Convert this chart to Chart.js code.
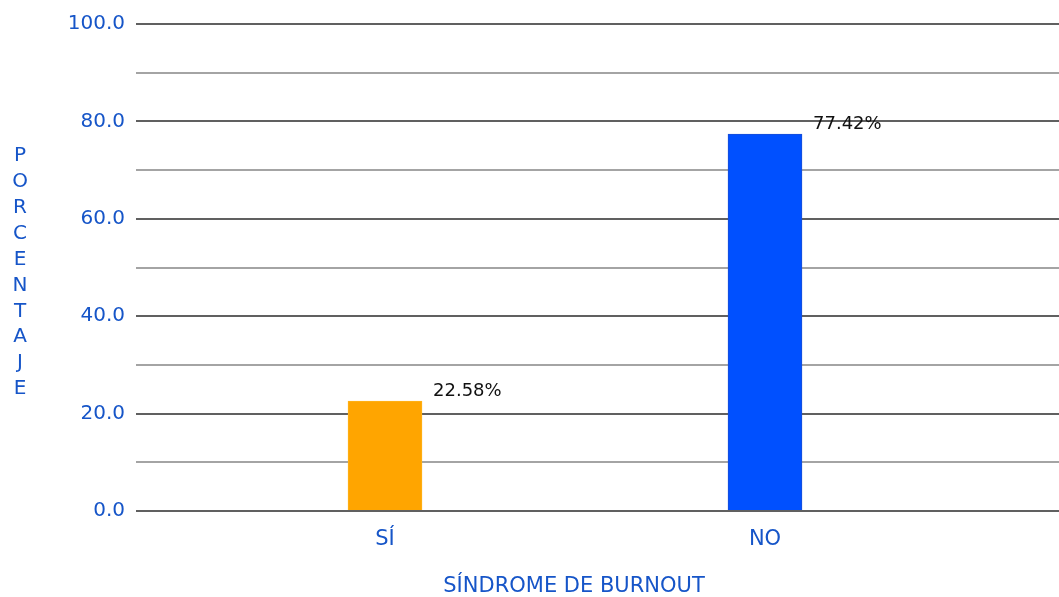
<!DOCTYPE html>
<html>
<head>
<meta charset="utf-8">
<script src="https://cdn.jsdelivr.net/npm/chart.js@4/dist/chart.umd.min.js"></script>
<style>
  html, body { margin: 0; padding: 0; background: #ffffff; }
  #wrap { width: 1059px; height: 597px; }
</style>
</head>
<body>
<div id="wrap"><canvas id="c" width="1059" height="597"></canvas></div>
<script>
// Burnout syndrome: share of respondents (%)
const categories = ['SÍ', 'NO'];
const percentages = [22.58, 77.42];
const barColors = ['#FFA500', '#0050FF'];
const barBorders = ['#FFB31A', '#1A4FD6'];
const yTitle = 'PORCENTAJE';
const xTitle = 'SÍNDROME DE BURNOUT';

const TEXT_BLUE = '#1655C8';
const FONT = "'DejaVu Sans', Verdana, sans-serif";

// Value labels to the upper right of each bar
const valueLabels = {
  id: 'valueLabels',
  afterDatasetsDraw(chart) {
    const ctx = chart.ctx;
    const meta = chart.getDatasetMeta(0);
    ctx.save();
    ctx.font = '18px ' + FONT;
    ctx.fillStyle = '#111111';
    ctx.textAlign = 'left';
    ctx.textBaseline = 'middle';
    meta.data.forEach((bar, i) => {
      const txt = percentages[i].toFixed(2) + '%';
      ctx.fillText(txt, bar.x + bar.width / 2 + 11, bar.y - 10);
    });
    ctx.restore();
  }
};

// Axis titles: stacked letters on the left, centred title below
const axisTitles = {
  id: 'axisTitles',
  afterDraw(chart) {
    const ctx = chart.ctx;
    const area = chart.chartArea;
    ctx.save();
    ctx.font = '20px ' + FONT;
    ctx.fillStyle = TEXT_BLUE;
    ctx.textAlign = 'center';
    ctx.textBaseline = 'middle';
    const letters = yTitle.split('');
    const step = 25.9;
    const mid = (area.top + area.bottom) / 2 + 5;
    const start = mid - step * (letters.length - 1) / 2;
    letters.forEach((ch, i) => ctx.fillText(ch, 20, start + i * step));
    const xs = chart.scales.x;
    ctx.font = '21px ' + FONT;
    ctx.fillText(xTitle, xs.getPixelForValue((1 + categories.length) / 2) - 1, 587);
    ctx.restore();
  }
};

new Chart(document.getElementById('c'), {
  type: 'bar',
  data: {
    datasets: [{
      data: categories.map((c, i) => ({ x: i + 1, y: percentages[i] })),
      backgroundColor: barColors,
      borderColor: barBorders,
      borderWidth: 1,
      barThickness: 74
    }]
  },
  options: {
    responsive: false,
    animation: false,
    devicePixelRatio: 1,
    layout: { padding: { top: 24, right: 0, bottom: 0, left: 0 } },
    plugins: {
      legend: { display: false },
      tooltip: { enabled: false }
    },
    scales: {
      x: {
        type: 'linear',
        offset: false,
        min: 0.3447,
        max: 2.7737,
        afterBuildTicks(axis) {
          axis.ticks = categories.map((c, i) => ({ value: i + 1 }));
        },
        afterFit(scale) { scale.height = 86; },
        ticks: {
          callback: (v) => categories[v - 1],
          color: TEXT_BLUE,
          font: { family: FONT, size: 21 },
          padding: 16,
          maxRotation: 0,
          autoSkip: false
        },
        grid: { display: false, drawTicks: false },
        border: { display: false }
      },
      y: {
        min: 0,
        max: 100,
        afterFit(scale) { scale.width = 136; },
        ticks: {
          stepSize: 10,
          callback: (v) => (v % 20 === 0 ? v.toFixed(1) : ''),
          color: TEXT_BLUE,
          font: { family: FONT, size: 20 },
          padding: 11
        },
        grid: {
          drawTicks: false,
          lineWidth: 2,
          color: (ctx) => (ctx.tick && ctx.tick.value % 20 === 0 ? '#606060' : '#A4A4A4')
        },
        border: { display: false }
      }
    }
  },
  plugins: [valueLabels, axisTitles]
});
</script>
</body>
</html>
